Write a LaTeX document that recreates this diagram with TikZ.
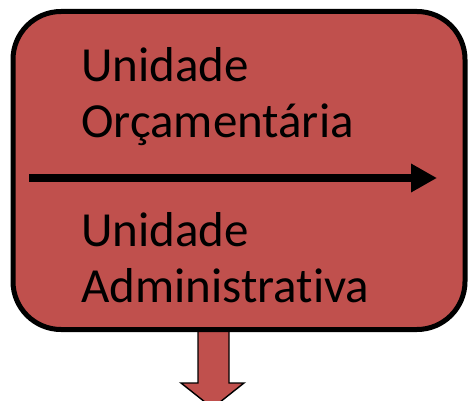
\documentclass[tikz,border=0pt]{standalone}
\usepackage{fontspec}
\setmainfont{Carlito}[Ligatures={NoCommon,NoContextual}]
\usetikzlibrary{arrows.meta}
\definecolor{boxred}{HTML}{C0504D}
\tikzset{
  mainbox/.style={draw=black, fill=boxred, line width=5pt, rounded corners=48pt,
    minimum width=452pt, minimum height=318pt, inner sep=0pt},
  lbl/.style={anchor=base west, inner sep=0pt, text=black,
    font=\fontsize{49}{56}\selectfont},
  flow/.style={line width=8pt, -{Triangle[length=26pt,width=27pt]}},
  blockarrow/.style={draw=black, fill=boxred, line width=1.4pt, line join=miter}
}
\begin{document}
\begin{tikzpicture}[x=1pt,y=-1pt]
\useasboundingbox (0,0) rectangle (469,401);
% down block arrow (drawn first, box covers its top)
\draw[blockarrow] (198,325) -- (198,383) -- (181,383) -- (212.5,408) -- (244,383) -- (229,383) -- (229,325) -- cycle;
\node[mainbox] (box) at (239,170.5) {};
\node[lbl] (uo1) at (81,82) {Unidade};
\node[lbl] (uo2) at (81,138) {Orçamentária};
\node[lbl] (ua1) at (81,247) {Unidade};
\node[lbl] (ua2) at (81,302) {Administrativa};
\coordinate (hs) at (29,178);
\coordinate (he) at (437,178);
\draw[flow] (hs) -- (he);
\end{tikzpicture}
\end{document}
